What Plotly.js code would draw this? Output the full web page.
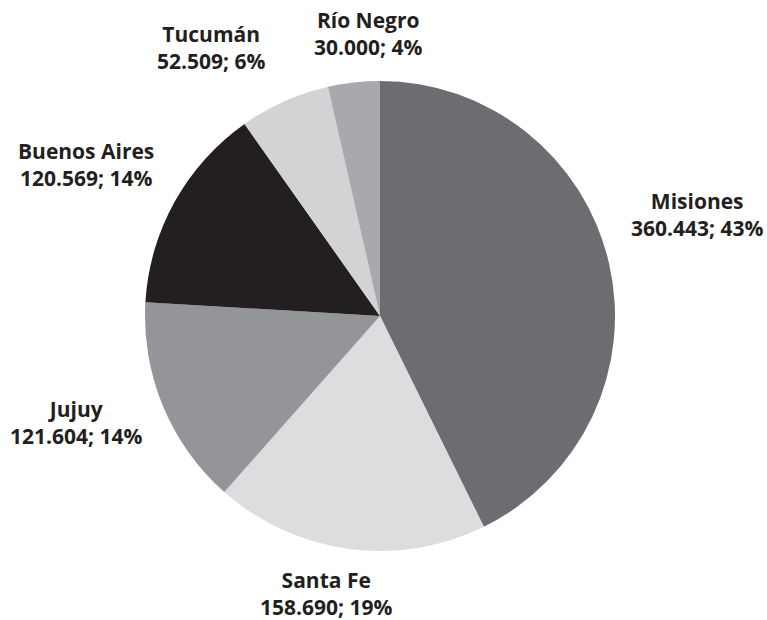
<!DOCTYPE html>
<html>
<head>
<meta charset="utf-8">
<script src="https://cdn.plot.ly/plotly-3.0.1.min.js"></script>
<style>html,body{margin:0;padding:0;background:#fff;}#chart{width:767px;height:620px;}</style>
</head>
<body>
<div id="chart"></div>
<script>
const provinces = ["Misiones", "Santa Fe", "Jujuy", "Buenos Aires", "Tucumán", "Río Negro"];
const hectares = [360443, 158690, 121604, 120569, 52509, 30000];
const sliceColors = ["#6c6d70", "#dcdddf", "#939598", "#231f20", "#d1d3d4", "#a7a9ac"];

// label anchor positions in pixels (layout only): [x center, y center of the two-line block]
const labelPx = [[697, 214], [325.5, 593], [76, 422.5], [86, 164], [211, 47], [367.5, 34]];

const W = 767, H = 620;
const total = hectares.reduce((a, b) => a + b, 0);
function fmt(n) { return String(n).replace(/\B(?=(\d{3})+(?!\d))/g, "."); }

const trace = {
  type: "pie",
  labels: provinces,
  values: hectares,
  sort: false,
  direction: "clockwise",
  rotation: 0,
  marker: {colors: sliceColors, line: {width: 0}},
  textinfo: "none",
  hoverinfo: "none",
  domain: {x: [145 / W, 615 / W], y: [69 / H, 539 / H]},
  automargin: false
};

const labelFont = {family: "Open Sans, Noto Sans, sans-serif", size: 21, color: "#231f20"};
const annotations = provinces.map((p, i) => ({
  xref: "paper", yref: "paper",
  x: labelPx[i][0] / W, y: 1 - labelPx[i][1] / H,
  xanchor: "center", yanchor: "middle",
  showarrow: false,
  align: "center",
  text: "<b>" + p + "</b><br><b>" + fmt(hectares[i]) + "; " + Math.round(hectares[i] / total * 100) + "%</b>",
  font: labelFont
}));

const layout = {
  width: W, height: H,
  margin: {l: 0, r: 0, t: 0, b: 0},
  showlegend: false,
  annotations: annotations,
  paper_bgcolor: "#ffffff",
  plot_bgcolor: "#ffffff"
};

Plotly.newPlot("chart", [trace], layout, {displayModeBar: false, staticPlot: true});
</script>
</body>
</html>
